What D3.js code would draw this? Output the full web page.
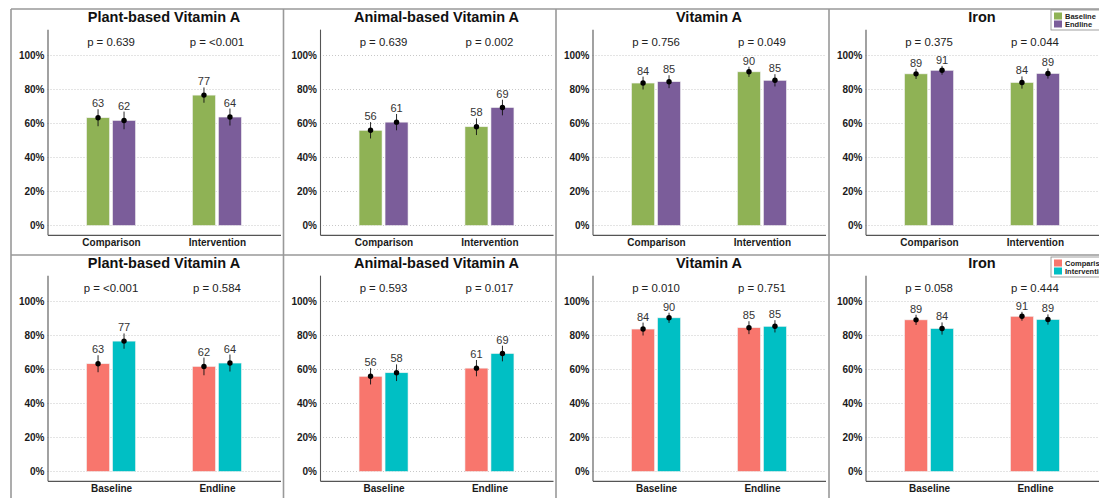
<!DOCTYPE html>
<meta charset="utf-8">
<style>
  body { margin: 0; background: #fff; }
  svg { display: block; font-family: "Liberation Sans", Arial, sans-serif; }
  .grid line { stroke: #c8c8c8; stroke-dasharray: 1,2; }
  .axis path { stroke: #555; stroke-width: 1.1px; }
  .axis text { font-weight: bold; fill: #1a1a1a; }
</style>
<svg width="1099" height="498"></svg>
<script src="https://d3js.org/d3.v7.min.js"></script>
<script>

  var nutrients = ["Plant-based Vitamin A", "Animal-based Vitamin A", "Vitamin A", "Iron"];
  var groups = ["Comparison", "Intervention"];
  var rounds = ["Baseline", "Endline"];

  // % adequate, one entry per nutrient
  var compBase = [63.4, 56.0, 83.8, 89.2];
  var compEnd = [61.8, 60.8, 84.6, 91.3];
  var intvBase = [76.7, 58.1, 90.4, 84.1];
  var intvEnd = [63.8, 69.4, 85.4, 89.4];

  // half width of the confidence interval
  var compBaseCI = [5.0, 4.8, 3.8, 3.0];
  var compEndCI = [5.2, 4.8, 3.8, 2.6];
  var intvBaseCI = [4.5, 4.9, 3.0, 3.6];
  var intvEndCI = [5.0, 4.6, 3.6, 3.0];

  // top row: baseline vs endline within group
  var pComp = ["0.639", "0.639", "0.756", "0.375"];
  var pIntv = ["<0.001", "0.002", "0.049", "0.044"];
  // bottom row: comparison vs intervention at each round
  var pBase = ["<0.001", "0.593", "0.010", "0.058"];
  var pEnd = ["0.584", "0.017", "0.751", "0.444"];

  var yTicks = [0, 20, 40, 60, 80, 100];

  var roundColors = ["#8fb255", "#7b5d9a"];
  var groupColors = ["#f8766d", "#00bfc4"];

  var svg = d3.select("svg");

  var panelX = [11, 283.5, 556, 829],
    rowY = [9, 255],
    axisOff = 36.5,
    plotW = 233;

  var values = [[compBase, compEnd], [intvBase, intvEnd]];   // [group][round]
  var cis = [[compBaseCI, compEndCI], [intvBaseCI, intvEndCI]];

  var y = d3.scaleLinear().domain([-5.5, 115.5]).range([225.85, 20.15]);

  // panel borders
  var borders = svg.append("g").attr("stroke", "#999").attr("stroke-width", 1.6);
  panelX.forEach(function (x) {
    borders.append("line").attr("x1", x).attr("x2", x).attr("y1", rowY[0]).attr("y2", 498);
  });
  rowY.forEach(function (ry) {
    borders.append("line").attr("x1", panelX[0]).attr("x2", 1099).attr("y1", ry).attr("y2", ry);
  });

  [0, 1].forEach(function (row) {
    nutrients.forEach(function (name, n) {
      var cats = row === 0 ? groups : rounds,
        series = row === 0 ? rounds : groups,
        colors = row === 0 ? roundColors : groupColors,
        pvals = row === 0 ? [pComp[n], pIntv[n]] : [pBase[n], pEnd[n]];

      var ax = panelX[n] + axisOff;
      var g = svg.append("g").attr("transform", "translate(0," + rowY[row] + ")");

      var x = d3.scalePoint().domain(cats).range([ax, ax + plotW]).padding(0.6);
      var xs = d3.scaleBand().domain(series).range([-24.5, 24.5]).paddingInner(0.115);

      var rows = [];
      cats.forEach(function (c, ci) {
        series.forEach(function (s, si) {
          var gi = row === 0 ? ci : si, ri = row === 0 ? si : ci;
          rows.push({ cat: c, ser: s, si: si, v: values[gi][ri][n], e: cis[gi][ri][n] });
        });
      });

      g.append("g").attr("class", "grid")
        .selectAll("line").data(yTicks).enter().append("line")
        .attr("x1", ax).attr("x2", ax + plotW)
        .attr("y1", function (d) { return y(d); })
        .attr("y2", function (d) { return y(d); });

      g.append("g").attr("class", "axis")
        .attr("transform", "translate(" + ax + ",0)")
        .call(d3.axisLeft(y).tickValues(yTicks).tickSize(0).tickPadding(3)
          .tickFormat(function (d) { return d + "%"; }))
        .selectAll("text").style("font-size", "10px");

      g.append("g").attr("class", "axis")
        .attr("transform", "translate(0," + y(-5.5) + ")")
        .call(d3.axisBottom(x).tickSize(0).tickPadding(4))
        .selectAll("text").style("font-size", "10px");

      g.append("text")
        .attr("x", ax + plotW / 2).attr("y", 13)
        .attr("text-anchor", "middle")
        .style("font-size", "14.5px").style("font-weight", "bold").style("fill", "#111")
        .text(name);

      g.selectAll(".pval").data(cats).enter().append("text")
        .attr("x", function (d) { return x(d); }).attr("y", 37)
        .attr("text-anchor", "middle")
        .style("font-size", "11.4px").style("fill", "#222")
        .text(function (d, i) { return "p = " + pvals[i]; });

      g.selectAll(".bar").data(rows).enter().append("rect")
        .attr("x", function (d) { return x(d.cat) + xs(d.ser); })
        .attr("width", xs.bandwidth())
        .attr("y", function (d) { return y(d.v); })
        .attr("height", function (d) { return y(0) - y(d.v); })
        .attr("fill", function (d) { return colors[d.si]; })
        .attr("stroke", "#f2f2f2").attr("stroke-width", 0.6);

      var cx = function (d) { return x(d.cat) + xs(d.ser) + xs.bandwidth() / 2; };

      g.selectAll(".err").data(rows).enter().append("line")
        .attr("x1", cx).attr("x2", cx)
        .attr("y1", function (d) { return y(d.v - d.e); })
        .attr("y2", function (d) { return y(d.v + d.e); })
        .attr("stroke", "#111").attr("stroke-width", 0.9);

      g.selectAll(".pt").data(rows).enter().append("circle")
        .attr("cx", cx).attr("cy", function (d) { return y(d.v); })
        .attr("r", 2.7).attr("fill", "#000");

      g.selectAll(".lab").data(rows).enter().append("text")
        .attr("x", cx).attr("y", function (d) { return y(d.v + d.e) - 2; })
        .attr("text-anchor", "middle")
        .style("font-size", "11px").style("fill", "#333")
        .text(function (d) { return Math.round(d.v); });
    });
  });

  // legends, top right of the Iron panels (cut by the right edge as in the source)
  [0, 1].forEach(function (row) {
    var labels = row === 0 ? rounds : groups,
      colors = row === 0 ? roundColors : groupColors,
      top = row === 0 ? 10 : 257;
    var lg = svg.append("g").attr("transform", "translate(1051," + top + ")");
    lg.append("rect").attr("width", 60).attr("height", 20)
      .attr("fill", "#fff").attr("stroke", "#888").attr("stroke-width", 0.8);
    lg.selectAll("rect.key").data(labels).enter().append("rect")
      .attr("class", "key")
      .attr("x", 3).attr("y", function (d, i) { return 2.5 + i * 8; })
      .attr("width", 8).attr("height", 7)
      .attr("fill", function (d, i) { return colors[i]; });
    lg.selectAll("text").data(labels).enter().append("text")
      .attr("x", 14).attr("y", function (d, i) { return 8.8 + i * 8; })
      .style("font-size", "7.5px").style("font-weight", "bold").style("fill", "#222")
      .text(function (d) { return d; });
  });

</script>
